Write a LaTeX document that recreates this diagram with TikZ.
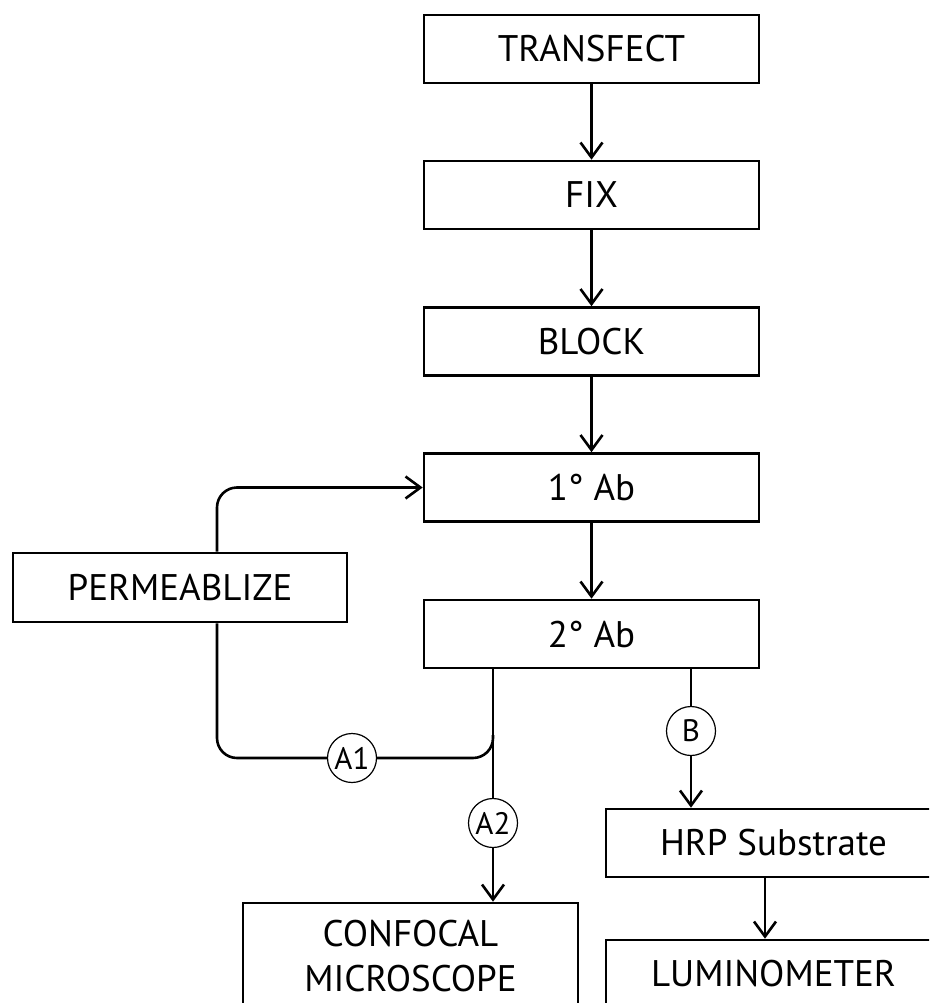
\documentclass[tikz,border=0pt]{standalone}
\usepackage{fontspec}
\setmainfont{PT Sans}
\usetikzlibrary{arrows.meta}
\begin{document}
\begin{tikzpicture}[x=1pt,y=-1pt,
  stepbox/.style={draw, line width=2.6pt, minimum width=335pt, minimum height=68pt, inner sep=0pt,
    font=\fontsize{37}{45}\selectfont, align=center},
  tag/.style={draw, circle, line width=1.2pt, minimum size=49pt, inner sep=0pt, fill=white,
    font=\fontsize{31}{34}\selectfont},
  conn/.style={line width=2.6pt},
  arr/.style={conn, -{Straight Barb[length=15pt,width=22pt,line width=2.6pt]}}]
\useasboundingbox (0,0) rectangle (929,1003);
\clip (0,0) rectangle (929,1003);
\fill[white] (0,0) rectangle (929,1003);
\node[stepbox] (T) at (591.5,49) {TRANSFECT};
\node[stepbox] (F) at (591.5,195) {FIX};
\node[stepbox] (BL) at (591.5,341.5) {BLOCK};
\node[stepbox] (A) at (591.5,487.5) {1° Ab};
\node[stepbox] (S2) at (591.5,634) {2° Ab};
\node[stepbox, minimum width=334pt, minimum height=69pt] (P) at (180,587.5) {PERMEABLIZE};
\node[stepbox] (HRP) at (773.5,843) {HRP Substrate};
\node[stepbox] (LUM) at (773.5,974) {LUMINOMETER};
\node[stepbox, minimum height=106pt] (CONF) at (410.5,956) {CONFOCAL\\MICROSCOPE};
\node[tag] (A1) at (352,758) {A1};
\node[tag] (B) at (691,731) {B};
\node[tag] (A2) at (493,823) {A2};
\coordinate (J) at (493,735);
\draw[arr] (T) -- (F);
\draw[arr] (F) -- (BL);
\draw[arr] (BL) -- (A);
\draw[arr] (A) -- (S2);
\draw[arr, rounded corners=20pt] ([xshift=37pt]P.north) |- (A.west);
\draw[conn, rounded corners=20pt] ([xshift=37pt]P.south) |- (A1.west);
\draw[conn, rounded corners=20pt] (A1.east) -| (J);
\draw[conn] (S2.south -| A2.center) -- (A2);
\draw[arr] (A2) -- (A2 |- CONF.north);
\draw[conn] (S2.south -| B.center) -- (B);
\draw[arr] (B) -- (B |- HRP.north);
\draw[arr] ([xshift=-8.5pt]HRP.south) -- ([xshift=-8.5pt]LUM.north);
\end{tikzpicture}
\end{document}
